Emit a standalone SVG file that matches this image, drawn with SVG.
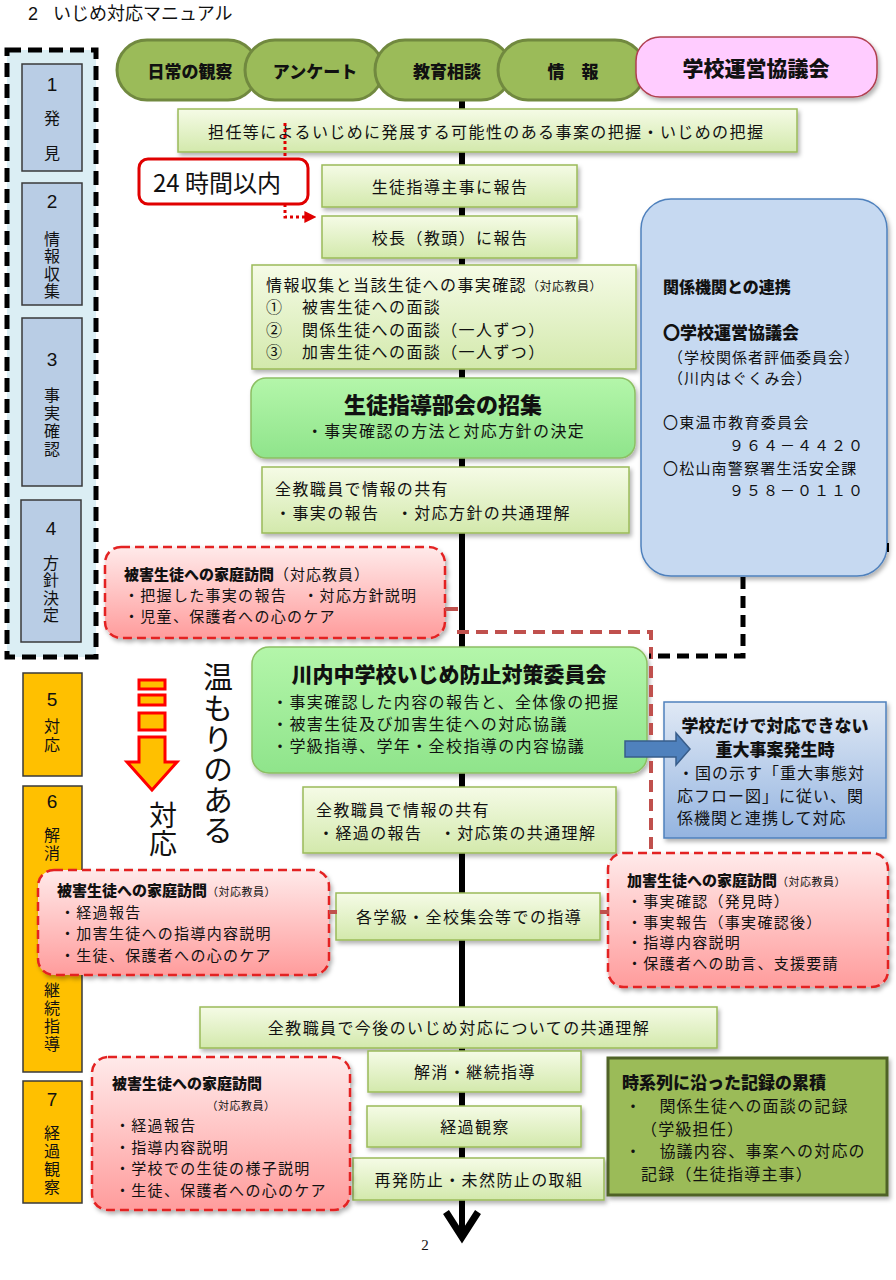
<svg xmlns="http://www.w3.org/2000/svg" width="896" height="1280" viewBox="0 0 896 1280">
<defs>
<linearGradient id="gL" x1="0" y1="0" x2="0" y2="1"><stop offset="0" stop-color="#f5fbe6"/><stop offset="1" stop-color="#d3e9ac"/></linearGradient>
<linearGradient id="gG" x1="0" y1="0" x2="0" y2="1"><stop offset="0" stop-color="#b4f6aa"/><stop offset="1" stop-color="#8fe48b"/></linearGradient>
<linearGradient id="gP" x1="0" y1="0" x2="0" y2="1"><stop offset="0" stop-color="#ffeaea"/><stop offset="1" stop-color="#ff9c9c"/></linearGradient>
<linearGradient id="gB" x1="0" y1="0" x2="0" y2="1"><stop offset="0" stop-color="#e0e9f5"/><stop offset="1" stop-color="#94b4e0"/></linearGradient>
<filter id="sh" x="-5%" y="-5%" width="115%" height="130%"><feDropShadow dx="2" dy="3" stdDeviation="2" flood-color="#000" flood-opacity="0.3"/></filter>
<marker id="ra" viewBox="0 0 10 10" refX="8" refY="5" markerWidth="4" markerHeight="4" orient="auto"><path d="M0,0 L10,5 L0,10 z" fill="#e00000"/></marker>
</defs>
<style>
text{font-family:"Noto Sans CJK JP","Noto Sans",sans-serif;fill:#111}
.t{font-size:16px;letter-spacing:1.4px}
.s{font-size:15px;letter-spacing:1.3px}
.xs{font-size:11px;letter-spacing:0.5px}
.sm{font-size:12px}
.b{font-weight:900}
.m{text-anchor:middle}
.lg{fill:url(#gL);stroke:#9bbb59;stroke-width:1.5}
.gg{fill:url(#gG);stroke:#8cbf63;stroke-width:1.5}
.pk{fill:url(#gP);stroke:#e32222;stroke-width:2.5;stroke-dasharray:9 5}
.pill{fill:#9bbb59;stroke:#71893f;stroke-width:3}
.st{fill:#b9cde5;stroke:#3a3a3a;stroke-width:1.5}
.or{fill:#ffc000;stroke:#3a3a3a;stroke-width:1.5}
.num{font-family:"Liberation Sans",sans-serif;font-size:19px;text-anchor:middle}
.v{font-size:16px;writing-mode:vertical-rl}
.vb{writing-mode:vertical-rl}
</style>

<text x="28" y="20" style="font-size:18px"><tspan font-family="Liberation Sans">2</tspan><tspan x="53">いじめ対応マニュアル</tspan></text>

<g id="stage-column">
<rect x="7" y="50" width="89" height="607" fill="#dbeef4" stroke="#000" stroke-width="5" stroke-dasharray="14 7"/>
<g id="stage1"><rect class="st" x="22" y="64" width="60" height="107"/><text class="num" x="52" y="91">1</text><text class="v" x="52" y="110" style="letter-spacing:19px">発見</text></g>
<g id="stage2"><rect class="st" x="22" y="183" width="60" height="122"/><text class="num" x="52" y="208">2</text><text class="v" x="52" y="231" style="letter-spacing:1.3px">情報収集</text></g>
<g id="stage3"><rect class="st" x="22" y="318" width="60" height="168"/><text class="num" x="52" y="366">3</text><text class="v" x="52" y="387" style="letter-spacing:2px">事実確認</text></g>
<g id="stage4"><rect class="st" x="21" y="500" width="60" height="142"/><text class="num" x="51" y="535">4</text><text class="v" x="51" y="555" style="letter-spacing:1.3px">方針決定</text></g>
</g>
<g id="stage5"><rect class="or" x="23" y="673" width="59" height="103"/><text class="num" x="52" y="706">5</text><text class="v" x="52" y="718" style="letter-spacing:3px">対応</text></g>
<g id="stage6"><rect class="or" x="23" y="786" width="59" height="286"/><text class="num" x="52" y="808">6</text><text class="v" x="52" y="827" style="letter-spacing:2px">解消</text><text class="v" x="52" y="982" style="letter-spacing:2px">継続指導</text></g>
<g id="stage7"><rect class="or" x="23" y="1081" width="59" height="122"/><text class="num" x="52" y="1106">7</text><text class="v" x="52" y="1125" style="letter-spacing:2px">経過観察</text></g>

<g id="main-flow">
<line x1="462" y1="100" x2="462" y2="1234" stroke="#000" stroke-width="6"/>
<polyline points="446,1212 462,1237 478,1212" fill="none" stroke="#000" stroke-width="7"/>
</g>

<g id="warm-arrow" fill="#ffc000" stroke="#ff0000" stroke-width="3">
<rect x="139" y="680" width="26" height="9"/>
<rect x="139" y="695" width="26" height="10"/>
<rect x="139" y="713" width="26" height="17"/>
<polygon points="139,737 165,737 165,762 177,762 152,790 127,762 139,762"/>
</g>
<text class="vb" x="218" y="662" style="font-size:30px;letter-spacing:0.6px">温もりのある</text>
<text class="vb" x="163" y="801" style="font-size:28px">対応</text>

<g id="pill-observe"><rect class="pill" x="117" y="40" width="141" height="60" rx="30"/><text class="b m" x="190" y="78" style="font-size:17px">日常の観察</text></g>
<g id="pill-survey"><rect class="pill" x="245" y="40" width="138" height="60" rx="30"/><text class="b m" x="315" y="78" style="font-size:17px">アンケート</text></g>
<g id="pill-consult"><rect class="pill" x="375" y="40" width="136" height="60" rx="30"/><text class="b m" x="447" y="78" style="font-size:17px">教育相談</text></g>
<g id="pill-info"><rect class="pill" x="498" y="40" width="147" height="60" rx="30"/><text class="b m" x="573" y="78" style="font-size:17px">情　報</text></g>
<g id="school-council"><rect x="636" y="37" width="241" height="60" rx="24" fill="#ffccff" stroke="#b04050" stroke-width="1.5" filter="url(#sh)"/><text class="b m" x="756" y="76" style="font-size:21px">学校運営協議会</text></g>

<g id="grasp"><rect class="lg" x="178" y="109" width="619" height="43" filter="url(#sh)"/><text class="t" x="208" y="138">担任等によるいじめに発展する可能性のある事案の把握・いじめの把握</text></g>
<g id="within24"><rect x="139" y="159" width="169" height="45" rx="9" fill="#fff" stroke="#e00000" stroke-width="3"/><text x="153" y="192" style="font-size:24px">24 時間以内</text></g>
<g id="report-chief"><rect class="lg" x="322" y="165" width="255" height="42" filter="url(#sh)"/><text class="t m" x="450" y="193">生徒指導主事に報告</text></g>
<g id="report-principal"><rect class="lg" x="322" y="216" width="255" height="42" filter="url(#sh)"/><text class="t m" x="450" y="244">校長（教頭）に報告</text></g>
<g id="fact-check"><rect class="lg" x="252" y="265" width="384" height="104" filter="url(#sh)"/>
<text class="t" x="266" y="291">情報収集と当該生徒への事実確認<tspan class="sm" style="letter-spacing:0.5px">（対応教員）</tspan></text>
<text class="t" x="266" y="313">①</text><text class="t" x="302" y="313">被害生徒への面談</text>
<text class="t" x="266" y="336">②</text><text class="t" x="302" y="336">関係生徒への面談（一人ずつ）</text>
<text class="t" x="266" y="358">③</text><text class="t" x="302" y="358">加害生徒への面談（一人ずつ）</text></g>
<g id="guidance-meeting"><rect class="gg" x="251" y="378" width="384" height="80" rx="15" filter="url(#sh)"/><text class="b m" x="443" y="413" style="font-size:22px">生徒指導部会の招集</text><text class="t m" x="446" y="437">・事実確認の方法と対応方針の決定</text></g>
<g id="share-1"><rect class="lg" x="262" y="467" width="367" height="66" filter="url(#sh)"/><text class="t" x="275" y="495">全教職員で情報の共有</text><text class="t" x="275" y="519">・事実の報告　・対応方針の共通理解</text></g>

<g id="agencies"><rect x="641" y="199" width="246" height="377" rx="30" fill="#c6d9f1" stroke="#4f81bd" stroke-width="1.5" filter="url(#sh)"/>
<text class="b" x="663" y="293" style="font-size:16px">関係機関との連携</text>
<text class="b" x="663" y="339" style="font-size:17px">〇学校運営協議会</text>
<text class="s" x="668" y="363" style="letter-spacing:1px">（学校関係者評価委員会）</text>
<text class="s" x="668" y="384" style="letter-spacing:1px">（川内はぐくみ会）</text>
<text class="s" x="663" y="428">〇東温市教育委員会</text>
<text class="s" x="729" y="451" textLength="134" lengthAdjust="spacing" style="letter-spacing:0">９６４－４４２０</text>
<text class="s" x="663" y="474" style="letter-spacing:1.2px">〇松山南警察署生活安全課</text>
<text class="s" x="729" y="496" textLength="134" lengthAdjust="spacing" style="letter-spacing:0">９５８－０１１０</text></g>

<g id="visit-victim-1"><rect class="pk" x="105" y="547" width="340" height="91" rx="16" filter="url(#sh)"/>
<text x="124" y="580" style="font-size:15px"><tspan class="b">被害生徒への家庭訪問</tspan><tspan style="letter-spacing:1px">（対応教員）</tspan></text>
<text class="s" x="124" y="601">・把握した事実の報告　・対応方針説明</text>
<text class="s" x="124" y="622">・児童、保護者への心のケア</text></g>

<g id="committee"><rect class="gg" x="252" y="647" width="395" height="126" rx="17" filter="url(#sh)"/>
<text class="b m" x="449" y="682" style="font-size:21px">川内中学校いじめ防止対策委員会</text>
<text class="t" x="272" y="708">・事実確認した内容の報告と、全体像の把握</text>
<text class="t" x="272" y="730">・被害生徒及び加害生徒への対応協議</text>
<text class="t" x="272" y="752">・学級指導、学年・全校指導の内容協議</text></g>

<g id="serious-case"><rect x="664" y="702" width="222" height="136" fill="url(#gB)" stroke="#4f81bd" stroke-width="1.5" filter="url(#sh)"/>
<text class="b m" x="775" y="732" style="font-size:17px">学校だけで対応できない</text>
<text class="b m" x="775" y="756" style="font-size:17px">重大事案発生時</text>
<text class="t" x="678" y="779" style="letter-spacing:1px">・国の示す「重大事態対</text>
<text class="t" x="677" y="802" style="letter-spacing:1px">応フロー図」に従い、関</text>
<text class="t" x="677" y="824" style="letter-spacing:1px">係機関と連携して対応</text></g>

<g id="share-2"><rect class="lg" x="303" y="787" width="313" height="66" filter="url(#sh)"/><text class="t" x="316" y="816">全教職員で情報の共有</text><text class="t" x="318" y="839">・経過の報告　・対応策の共通理解</text></g>

<g id="visit-victim-2"><rect class="pk" x="38" y="870" width="291" height="105" rx="16" filter="url(#sh)"/>
<text x="57" y="896" style="font-size:15px"><tspan class="b">被害生徒への家庭訪問</tspan><tspan class="xs">（対応教員）</tspan></text>
<text class="s" x="60" y="918">・経過報告</text>
<text class="s" x="60" y="939">・加害生徒への指導内容説明</text>
<text class="s" x="60" y="961">・生徒、保護者への心のケア</text></g>

<g id="class-guidance"><rect class="lg" x="336" y="893" width="264" height="47" filter="url(#sh)"/><text class="t m" x="469" y="923">各学級・全校集会等での指導</text></g>

<g id="visit-offender"><rect class="pk" x="608" y="853" width="280" height="134" rx="16" filter="url(#sh)"/>
<text x="627" y="886" style="font-size:15px"><tspan class="b">加害生徒への家庭訪問</tspan><tspan class="xs">（対応教員）</tspan></text>
<text class="s" x="627" y="907">・事実確認（発見時）</text>
<text class="s" x="627" y="928">・事実報告（事実確認後）</text>
<text class="s" x="627" y="948">・指導内容説明</text>
<text class="s" x="627" y="969">・保護者への助言、支援要請</text></g>

<g id="common-understanding"><rect class="lg" x="200" y="1007" width="517" height="41" filter="url(#sh)"/><text class="t m" x="459" y="1034">全教職員で今後のいじめ対応についての共通理解</text></g>
<g id="resolve"><rect class="lg" x="368" y="1051" width="213" height="41" filter="url(#sh)"/><text class="t m" x="475" y="1078">解消・継続指導</text></g>
<g id="observe"><rect class="lg" x="367" y="1106" width="214" height="41" filter="url(#sh)"/><text class="t m" x="475" y="1133">経過観察</text></g>
<g id="prevention"><rect class="lg" x="353" y="1158" width="251" height="42" filter="url(#sh)"/><text class="t m" x="479" y="1186">再発防止・未然防止の取組</text></g>

<g id="visit-victim-3"><rect class="pk" x="92" y="1057" width="258" height="153" rx="16" filter="url(#sh)"/>
<text class="b" x="112" y="1089" style="font-size:15px">被害生徒への家庭訪問</text>
<text class="xs m" x="241" y="1110">（対応教員）</text>
<text class="s" x="115" y="1131">・経過報告</text>
<text class="s" x="115" y="1153">・指導内容説明</text>
<text class="s" x="115" y="1174">・学校での生徒の様子説明</text>
<text class="s" x="115" y="1196">・生徒、保護者への心のケア</text></g>

<g id="records"><rect x="608" y="1058" width="279" height="137" fill="#9bbb59" stroke="#4f6228" stroke-width="3" filter="url(#sh)"/>
<text class="b" x="622" y="1089" style="font-size:17px">時系列に沿った記録の累積</text>
<text class="t" x="625" y="1112" style="letter-spacing:1.2px">・　関係生徒への面談の記録</text>
<text class="t" x="641" y="1135" style="letter-spacing:1.2px">（学級担任）</text>
<text class="t" x="625" y="1157" style="letter-spacing:1.2px">・　協議内容、事案への対応の</text>
<text class="t" x="641" y="1180" style="letter-spacing:1.2px">記録（生徒指導主事）</text></g>

<g id="connectors">
<path d="M285 123 V159 M285 204 V217 H314" fill="none" stroke="#e00000" stroke-width="3" stroke-dasharray="3 3" marker-end="url(#ra)"/>
<line x1="445" y1="609" x2="458" y2="609" stroke="#c0504d" stroke-width="4"/>
<path d="M457 632 H651 V851" fill="none" stroke="#c0504d" stroke-width="4" stroke-dasharray="12 7"/>
<line x1="329" y1="912" x2="337" y2="912" stroke="#c0504d" stroke-width="4"/>
<line x1="600" y1="912" x2="609" y2="912" stroke="#c0504d" stroke-width="4"/>
<path d="M743 577 V656 H649" fill="none" stroke="#000" stroke-width="5" stroke-dasharray="12 7"/>
<line x1="888" y1="543" x2="888" y2="552" stroke="#000" stroke-width="2"/>
<polygon id="blue-arrow" points="625,741 676,741 676,733 690,749 676,765 676,757 625,757" fill="#4f81bd" stroke="#385d8a" stroke-width="1.5"/>
</g>

<text x="425" y="1250" class="m" style="font-family:'Liberation Serif',serif;font-size:15px">2</text>
</svg>
